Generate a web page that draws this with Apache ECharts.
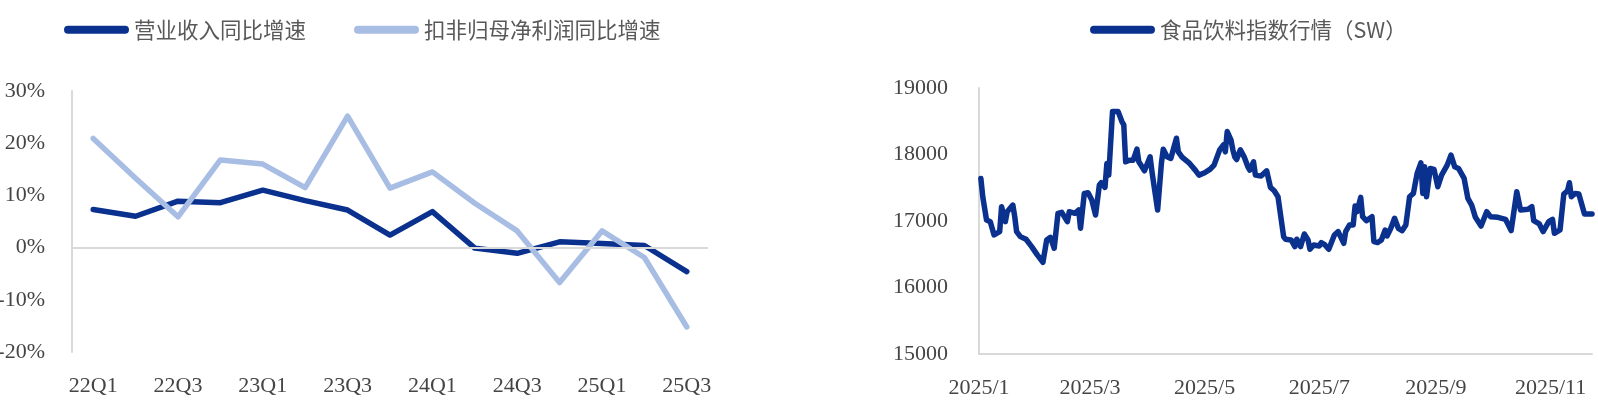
<!DOCTYPE html>
<html><head><meta charset="utf-8">
<script src="https://cdn.jsdelivr.net/npm/echarts@6/dist/echarts.min.js"></script>
<style>html,body{margin:0;padding:0;background:#fff}#c{width:1598px;height:408px}</style>
</head><body><div id="c"></div><script>
// ---- Left chart data (YoY growth, %) ----
const quarters = ['22Q1','22Q2','22Q3','22Q4','23Q1','23Q2','23Q3','23Q4','24Q1','24Q2','24Q3','24Q4','25Q1','25Q2','25Q3'];
const revenueYoY = [7.3, 6.0, 8.9, 8.6, 11.0, 9.0, 7.2, 2.4, 6.9, -0.1, -1.1, 1.1, 0.8, 0.4, -4.6];
const profitYoY  = [20.9, 13.3, 5.9, 16.8, 16.0, 11.5, 25.2, 11.4, 14.5, 8.5, 3.2, -6.7, 3.2, -1.9, -15.2];
const leftNames = ['营业收入同比增速', '扣非归母净利润同比增速'];

// ---- Right chart data (SW food & beverage index) ----
const rightName = '食品饮料指数行情（SW）';
const indexDates = [
 '2025-01-02','2025-01-03','2025-01-05','2025-01-07','2025-01-08','2025-01-09','2025-01-12','2025-01-13','2025-01-15','2025-01-16',
 '2025-01-19','2025-01-20','2025-01-21','2025-01-23','2025-01-26','2025-01-29','2025-02-01','2025-02-04','2025-02-06','2025-02-08',
 '2025-02-10','2025-02-12','2025-02-14','2025-02-15','2025-02-17','2025-02-18','2025-02-21','2025-02-23','2025-02-24','2025-02-26',
 '2025-02-28','2025-03-02','2025-03-04','2025-03-06','2025-03-07','2025-03-09','2025-03-10','2025-03-11','2025-03-13','2025-03-14',
 '2025-03-16','2025-03-18','2025-03-19','2025-03-20','2025-03-22','2025-03-24','2025-03-26','2025-03-27','2025-03-30','2025-03-31',
 '2025-04-02','2025-04-03','2025-04-06','2025-04-08','2025-04-09','2025-04-11','2025-04-13','2025-04-16','2025-04-17','2025-04-19',
 '2025-04-23','2025-04-26','2025-04-28','2025-05-01','2025-05-04','2025-05-06','2025-05-09','2025-05-11','2025-05-12','2025-05-13',
 '2025-05-15','2025-05-16','2025-05-17','2025-05-18','2025-05-20','2025-05-22','2025-05-24','2025-05-25','2025-05-27','2025-05-28',
 '2025-05-31','2025-06-01','2025-06-03','2025-06-05','2025-06-07','2025-06-09','2025-06-10','2025-06-12','2025-06-13','2025-06-16',
 '2025-06-18','2025-06-19','2025-06-21','2025-06-23','2025-06-25','2025-06-26','2025-06-28','2025-07-01','2025-07-02','2025-07-04',
 '2025-07-06','2025-07-09','2025-07-11','2025-07-14','2025-07-15','2025-07-17','2025-07-19','2025-07-20','2025-07-21','2025-07-23',
 '2025-07-24','2025-07-26','2025-07-29','2025-07-30','2025-08-01','2025-08-03','2025-08-05','2025-08-06','2025-08-08','2025-08-10',
 '2025-08-12','2025-08-14','2025-08-16','2025-08-18','2025-08-20','2025-08-22','2025-08-24','2025-08-25','2025-08-26','2025-08-27',
 '2025-08-29','2025-08-31','2025-09-02','2025-09-04','2025-09-07','2025-09-09','2025-09-11','2025-09-13','2025-09-14','2025-09-16',
 '2025-09-18','2025-09-20','2025-09-22','2025-09-25','2025-09-28','2025-09-30','2025-10-04','2025-10-08','2025-10-11','2025-10-14',
 '2025-10-16','2025-10-20','2025-10-22','2025-10-23','2025-10-26','2025-10-28','2025-10-31','2025-11-02','2025-11-03','2025-11-06',
 '2025-11-08','2025-11-10','2025-11-11','2025-11-12','2025-11-14','2025-11-16','2025-11-19','2025-11-23'
];
const indexValues = [
 17640,17365,17015,16990,17015,16790,16840,17215,16990,17140,
 17240,17065,16840,16765,16725,16615,16490,16380,16715,16755,
 16590,17115,17130,17125,16990,17140,17115,17165,16890,17415,
 17425,17315,17090,17540,17575,17505,17865,17690,18645,18660,
 18645,18495,18445,17890,17915,17915,18080,17890,17755,17755,
 17965,17740,17165,17865,18080,17965,17940,18245,18040,17960,
 17865,17765,17690,17725,17780,17840,18070,18145,18040,18345,
 18220,18070,17965,17925,18070,17965,17815,17765,17890,17690,
 17675,17655,17755,17505,17455,17365,17340,16765,16725,16715,
 16615,16725,16615,16805,16715,16575,16640,16625,16675,16640,
 16575,16790,16840,16665,16840,16940,16940,17225,17140,17355,
 17065,17005,17065,16690,16675,16715,16865,16775,16890,17040,
 16890,16855,16940,17365,17415,17715,17875,17415,17815,17365,
 17790,17775,17515,17690,17840,17990,17815,17790,17765,17640,
 17340,17240,17055,16925,17140,17065,17055,17025,16855,17440,
 17165,17175,17215,17005,16955,16840,16990,17025,16815,16865,
 17405,17455,17575,17365,17415,17405,17105,17105
];
const monthTicks = ['2025-01-01','2025-03-01','2025-05-01','2025-07-01','2025-09-01','2025-11-01'];

const DARK = '#0b318f', LIGHT = '#a8bde3', AXIS = '#d9d9d9', TXT = '#454545';
const LATIN = "'Liberation Serif', 'Noto Sans CJK SC', serif";
const CJK = "'Noto Sans CJK SC', sans-serif";
const capsule = 'path://M4,0H61A4,4,0,0,1,61,8H4A4,4,0,0,1,4,0Z';
const toTs = s => { const p = s.split('-').map(Number); return new Date(p[0], p[1]-1, p[2]).getTime(); };

function legendCfg(name, left) {
  return { data: [name], left: left, top: 19, padding: 0, itemWidth: 65, itemHeight: 8, itemGap: 0,
    icon: capsule, itemStyle: { borderWidth: 0 },
    textStyle: { fontSize: 21.5, color: '#595959', fontFamily: CJK } };
}

const chart = echarts.init(document.getElementById('c'), null, { renderer: 'canvas' });
chart.setOption({
  animation: false,
  backgroundColor: '#ffffff',
  legend: [legendCfg(leftNames[0], 64), legendCfg(leftNames[1], 354), legendCfg(rightName, 1090)],
  grid: [
    { left: 72, right: 890, top: 91, bottom: 56, outerBoundsMode: 'none' },
    { left: 979, right: 6, top: 88, bottom: 54, outerBoundsMode: 'none' }
  ],
  xAxis: [
    { type: 'category', gridIndex: 0, data: quarters, boundaryGap: true,
      axisLine: { show: false, onZero: false }, axisTick: { show: false },
      axisLabel: { interval: 1, fontSize: 22, color: TXT, fontFamily: LATIN, margin: 23 } },
    { type: 'value', gridIndex: 1, min: toTs('2025-01-01'), max: toTs(indexDates[indexDates.length-1]),
      axisLine: { show: true, onZero: false, lineStyle: { color: AXIS, width: 2 } }, axisTick: { show: false },
      splitLine: { show: false },
      axisLabel: { customValues: monthTicks.map(toTs), fontSize: 22, color: TXT, fontFamily: LATIN, margin: 23,
        hideOverlap: false,
        formatter: v => { const d = new Date(v); return d.getFullYear() + '/' + (d.getMonth()+1); } } }
  ],
  yAxis: [
    { type: 'value', gridIndex: 0, min: -20, max: 30, interval: 10,
      axisLine: { show: true, lineStyle: { color: AXIS, width: 2 } }, axisTick: { show: false },
      splitLine: { show: false },
      axisLabel: { formatter: '{value}%', fontSize: 22, color: TXT, fontFamily: LATIN, margin: 27 } },
    { type: 'value', gridIndex: 1, min: 15000, max: 19000, interval: 1000,
      axisLine: { show: true, lineStyle: { color: AXIS, width: 2 } }, axisTick: { show: false },
      splitLine: { show: false },
      axisLabel: { formatter: v => String(v), fontSize: 22, color: TXT, fontFamily: LATIN, margin: 31 } }
  ],
  series: [
    { type: 'line', name: '_zero', xAxisIndex: 0, yAxisIndex: 0, data: [], z: 1, silent: true,
      markLine: { silent: true, symbol: 'none', label: { show: false },
        lineStyle: { color: AXIS, width: 2, type: 'solid' }, data: [{ yAxis: 0 }] } },
    { type: 'line', name: leftNames[0], xAxisIndex: 0, yAxisIndex: 0, data: revenueYoY, z: 3,
      symbol: 'none', color: DARK, lineStyle: { color: DARK, width: 5.5, cap: 'round', join: 'round' } },
    { type: 'line', name: leftNames[1], xAxisIndex: 0, yAxisIndex: 0, data: profitYoY, z: 4,
      symbol: 'none', color: LIGHT, lineStyle: { color: LIGHT, width: 5.5, cap: 'round', join: 'round' } },
    { type: 'line', name: rightName, xAxisIndex: 1, yAxisIndex: 1,
      data: indexDates.map((d, i) => [toTs(d), indexValues[i]]), z: 3,
      symbol: 'none', color: DARK, lineStyle: { color: DARK, width: 5.5, cap: 'round', join: 'round' } }
  ]
});
</script></body></html>
